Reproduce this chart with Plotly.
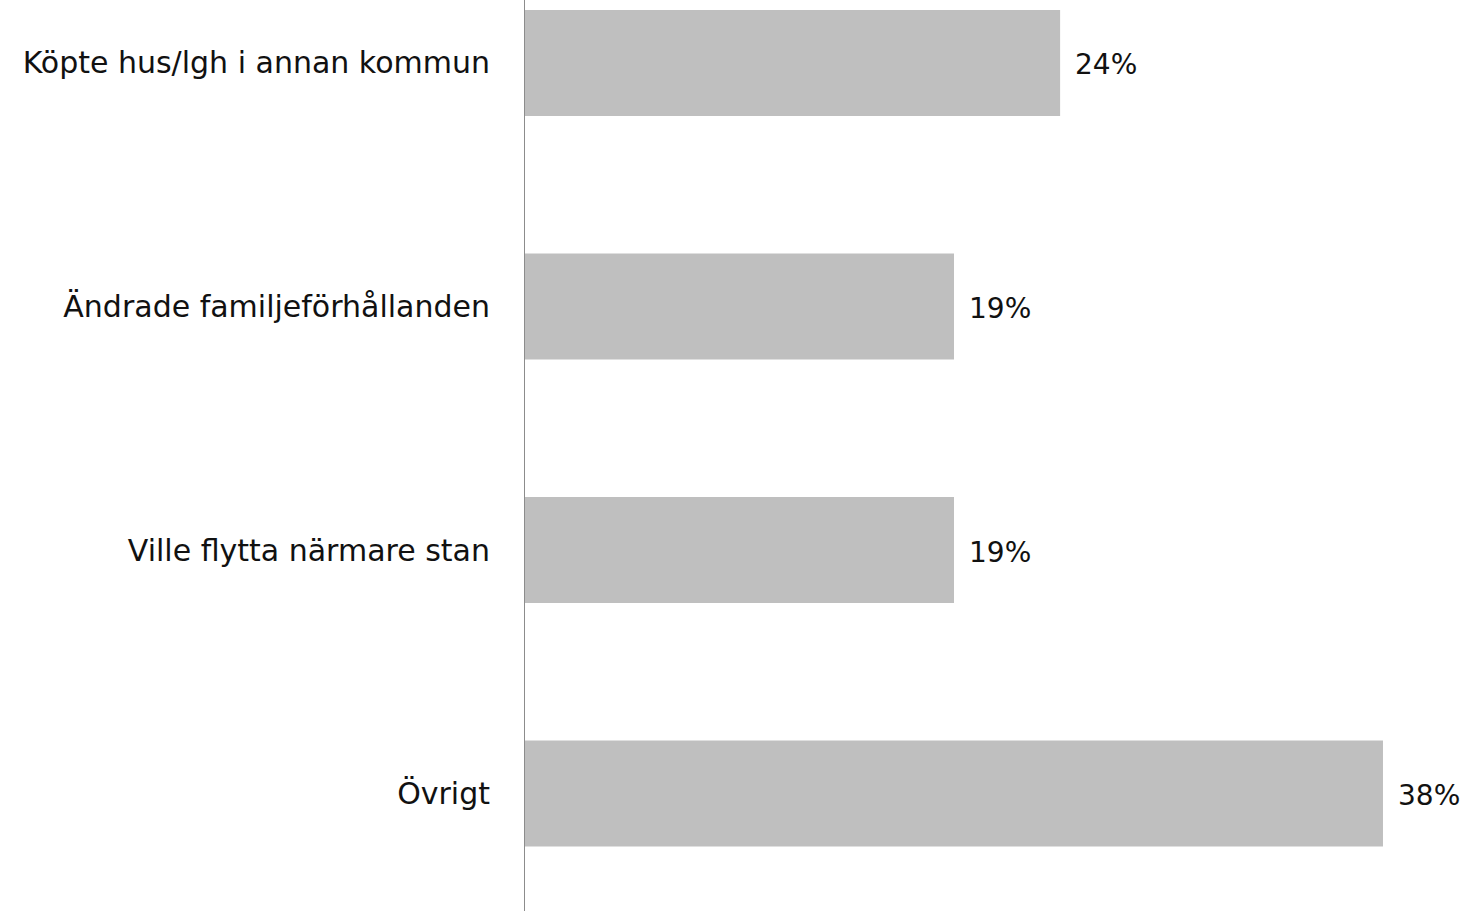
import plotly.graph_objects as go

categories = ["Köpte hus/lgh i annan kommun", "Ändrade familjeförhållanden",
              "Ville flytta närmare stan", "Övrigt"]
values = [23.7, 19.0, 19.0, 38.0]
labels = ["24%", "19%", "19%", "38%"]

FONT = "DejaVu Sans"
positions = list(range(len(categories)))

fig = go.Figure()
fig.add_trace(go.Bar(
    x=values, y=positions, orientation="h",
    marker=dict(color="#BFBFBF", line=dict(width=0)),
    width=0.435, hoverinfo="skip",
))

for v, p, t in zip(values, positions, labels):
    fig.add_annotation(x=v, y=p, text=t, showarrow=False, xanchor="left",
                       xshift=13, yshift=-2,
                       font=dict(family=FONT, size=28, color="#111111"))

fig.update_layout(
    width=1462, height=911,
    margin=dict(l=525, r=0, t=0, b=0, autoexpand=False),
    paper_bgcolor="white", plot_bgcolor="white",
    showlegend=False,
    xaxis=dict(range=[0, 41.5], visible=False, fixedrange=True),
    yaxis=dict(
        range=[3.4825, -0.2587],
        tickvals=positions, ticktext=categories,
        tickfont=dict(family=FONT, size=30, color="#111111"),
        showline=True, linecolor="#8c8c8c", linewidth=1,
        showgrid=False, zeroline=False, ticks="",
        ticklabelstandoff=28,
    ),
)

fig.write_html("out.html", config={"displayModeBar": False},
               post_script="document.body.style.margin='0';")
